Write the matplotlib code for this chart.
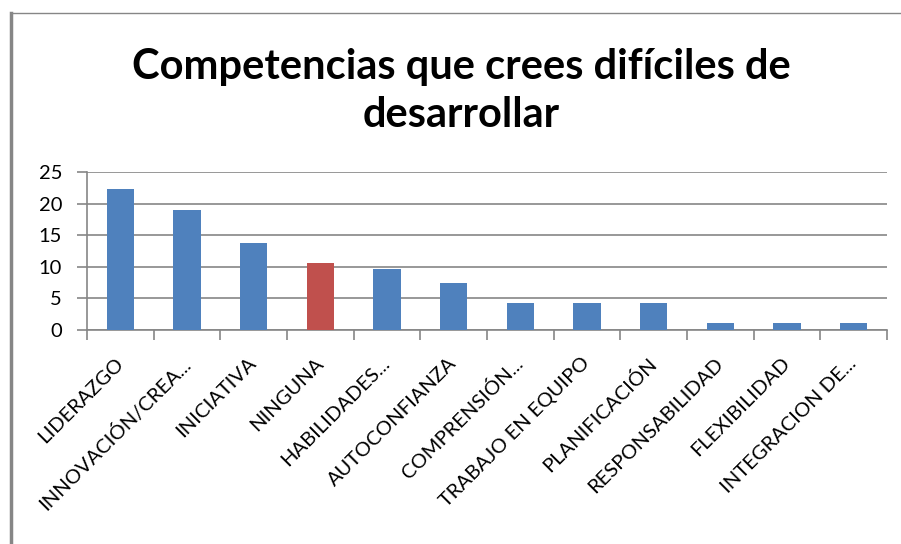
import matplotlib.pyplot as plt
from matplotlib.lines import Line2D
import numpy as np

# Datos del gráfico (porcentajes)
categorias = ['LIDERAZGO', 'INNOVACIÓN/CREA...', 'INICIATIVA', 'NINGUNA',
              'HABILIDADES...', 'AUTOCONFIANZA', 'COMPRENSIÓN...',
              'TRABAJO EN EQUIPO', 'PLANIFICACIÓN', 'RESPONSABILIDAD',
              'FLEXIBILIDAD', 'INTEGRACION DE...']
valores = [22.3, 19.1, 13.8, 10.6, 9.6, 7.4, 4.3, 4.3, 4.3, 1.1, 1.1, 1.1]
colores = ['#4F81BD'] * 12
colores[3] = '#C0504D'
y_ticks = [0, 5, 10, 15, 20, 25]

plt.rcParams['font.family'] = ['Lato', 'DejaVu Sans']
gris = '#868686'

fig = plt.figure(figsize=(9.01, 5.44), dpi=100)
ax = fig.add_axes([87 / 901, 1 - 330 / 544, 800 / 901, (330 - 172.3) / 544])

x = np.arange(len(categorias))
ax.bar(x, valores, width=0.41, color=colores, zorder=3)

ax.set_xlim(-0.5, len(categorias) - 0.5)
ax.set_ylim(0, 25)
ax.set_yticks(y_ticks)
ax.yaxis.grid(True, color=gris, linewidth=1.2, zorder=0)

ax.set_xticks(x)
ax.set_xticklabels(categorias, rotation=45, ha='right', va='center',
                   rotation_mode='anchor', fontsize=14.5)
ax.tick_params(axis='x', length=0, pad=22)
ax.set_xticks(np.arange(-0.5, len(categorias)), minor=True)
ax.tick_params(axis='x', which='minor', length=7, color=gris, width=1.2)
ax.tick_params(axis='y', length=7, color=gris, width=1.2, labelsize=14.5, pad=11)

for lado in ['top', 'right']:
    ax.spines[lado].set_visible(False)
for lado in ['left', 'bottom']:
    ax.spines[lado].set_color(gris)
    ax.spines[lado].set_linewidth(1.2)

# Título en dos líneas
fig.text(461 / 901, 1 - 91 / 544, 'Competencias que crees difíciles de\ndesarrollar',
         ha='center', va='center', fontsize=30, fontweight='bold',
         linespacing=1.33)

# Borde del área del gráfico (izquierda y arriba)
fig.add_artist(Line2D([10.5 / 901, 10.5 / 901], [0, 1 - 12.5 / 544],
                      color=gris, linewidth=2.5, transform=fig.transFigure))
fig.add_artist(Line2D([10.5 / 901, 1], [1 - 12.5 / 544, 1 - 12.5 / 544],
                      color=gris, linewidth=1.0, transform=fig.transFigure))

plt.savefig('out.png', dpi=100)
